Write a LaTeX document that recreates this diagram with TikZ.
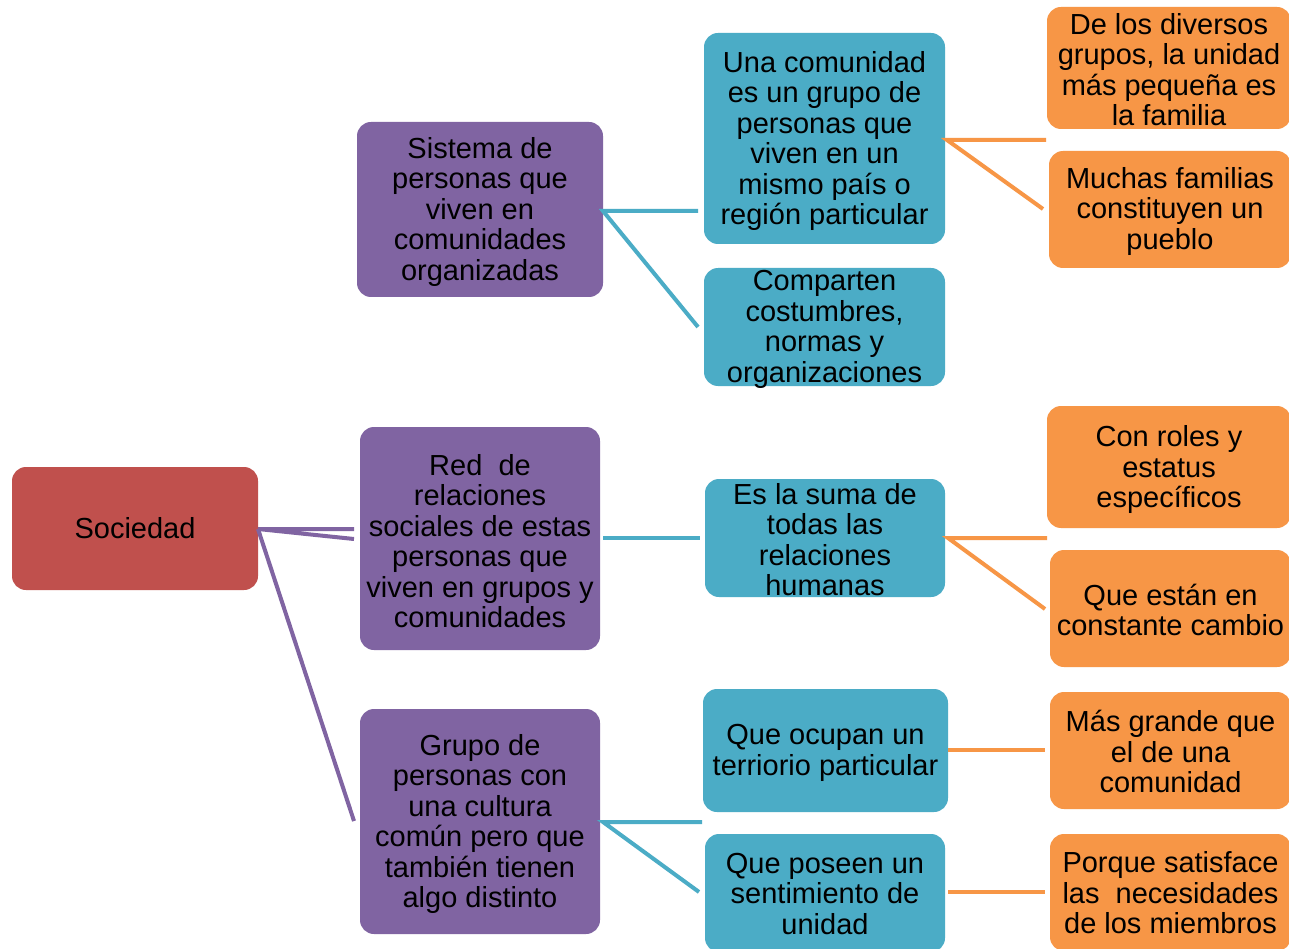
\documentclass[tikz,border=0pt]{standalone}
\usepackage{fontspec}
\setmainfont{Liberation Sans}
\definecolor{cred}{HTML}{C0504D}
\definecolor{cpur}{HTML}{8064A2}
\definecolor{cteal}{HTML}{4BACC6}
\definecolor{cora}{HTML}{F79646}
\begin{document}
\begin{tikzpicture}[x=1pt,y=-1pt,
  box/.style={rounded corners=14pt, inner sep=0pt},
  txt/.style={inner sep=0pt, align=center, text=black,
    font=\fontsize{29}{30.5}\selectfont},
  redbox/.style={box, fill=cred},
  purbox/.style={box, fill=cpur},
  tealbox/.style={box, fill=cteal},
  orabox/.style={box, fill=cora},
  purline/.style={draw=cpur, line width=4pt},
  tealline/.style={draw=cteal, line width=4pt},
  oraline/.style={draw=cora, line width=4pt}]
\clip (0,0) rectangle (1289,949);
\fill[white] (0,0) rectangle (1289,949);
% level 0
\node[redbox, minimum width=246pt, minimum height=123pt] (soc) at (135,528.5) {};
\node[txt] (socT) at (soc.center) {Sociedad};
% level 1
\node[purbox, minimum width=246pt, minimum height=175pt] (sis) at (480,209.5) {};
\node[txt] (sisT) at ([yshift=-2.5pt]sis.center) {Sistema de\\personas que\\viven en\\comunidades\\organizadas};
\node[purbox, minimum width=240pt, minimum height=223pt] (red) at (480,538.5) {};
\node[txt] (redT) at ([yshift=-2.5pt]red.center) {Red\ \ de\\relaciones\\sociales de estas\\personas que\\viven en grupos y\\comunidades};
\node[purbox, minimum width=240pt, minimum height=225pt] (gru) at (480,821.5) {};
\node[txt] (gruT) at ([yshift=-2.5pt]gru.center) {Grupo de\\personas con\\una cultura\\común pero que\\también tienen\\algo distinto};
% level 2
\node[tealbox, minimum width=241pt, minimum height=211pt] (una) at (824.5,138.5) {};
\node[txt] (unaT) at ([yshift=-2.5pt]una.center) {Una comunidad\\es un grupo de\\personas que\\viven en un\\mismo país o\\región particular};
\node[tealbox, minimum width=241pt, minimum height=118pt] (com) at (824.5,327) {};
\node[txt] (comT) at ([yshift=-2.5pt]com.center) {Comparten\\costumbres,\\normas y\\organizaciones};
\node[tealbox, minimum width=240pt, minimum height=118pt] (suma) at (825,538) {};
\node[txt] (sumaT) at ([yshift=-1.5pt]suma.center) {Es la suma de\\todas las\\relaciones\\humanas};
\node[tealbox, minimum width=245pt, minimum height=123pt] (ocu) at (825.5,750.5) {};
\node[txt] (ocuT) at ([yshift=-2.5pt]ocu.center) {Que ocupan un\\terriorio particular};
\node[tealbox, minimum width=240pt, minimum height=118pt] (pos) at (825,893) {};
\node[txt] (posT) at ([yshift=-1pt]pos.center) {Que poseen un\\sentimiento de\\unidad};
% level 3
\node[orabox, minimum width=244pt, minimum height=122pt] (div) at (1169,68) {};
\node[txt] (divT) at ([yshift=-1.5pt]div.center) {De los diversos\\grupos, la unidad\\más pequeña es\\la familia};
\node[orabox, minimum width=242pt, minimum height=117pt] (muc) at (1170,209.5) {};
\node[txt] (mucT) at ([yshift=-2pt]muc.center) {Muchas familias\\constituyen un\\pueblo};
\node[orabox, minimum width=244pt, minimum height=122pt] (rol) at (1169,467) {};
\node[txt] (rolT) at ([yshift=-2.5pt]rol.center) {Con roles y\\estatus\\específicos};
\node[orabox, minimum width=241pt, minimum height=117pt] (est) at (1170.5,608.5) {};
\node[txt] (estT) at ([yshift=-1.5pt]est.center) {Que están en\\constante cambio};
\node[orabox, minimum width=241pt, minimum height=117pt] (gra) at (1170.5,750.5) {};
\node[txt] (graT) at ([yshift=-1pt]gra.center) {Más grande que\\el de una\\comunidad};
\node[orabox, minimum width=241pt, minimum height=117pt] (por) at (1170.5,892.5) {};
\node[txt] (porT) at ([yshift=-0.5pt]por.center) {Porque satisface\\las\ \ necesidades\\de los miembros};
% connector end points
\coordinate (s1) at (354,529);
\coordinate (s2) at (354,539);
\coordinate (s3) at (354,821);
\coordinate (a1) at (698,211);
\coordinate (a2) at (698,327);
\coordinate (b1) at (700,538);
\coordinate (c1) at (702,822);
\coordinate (c2) at (699,892);
\coordinate (d1) at (1046,140);
\coordinate (d2) at (1043,209);
\coordinate (e1) at (1047,538);
\coordinate (e2) at (1045,609);
\coordinate (f1) at (1045,750);
\coordinate (g1) at (1045,892);
\coordinate (socR) at (258,529);
\coordinate (sisR) at (603,211);
\coordinate (redR) at (603,538);
\coordinate (gruR) at (603,822);
\coordinate (unaR) at (947,140);
\coordinate (sumaR) at (948,538);
\coordinate (ocuR) at (948,750);
\coordinate (posR) at (948,892);
% connectors
\path[purline] (s1) -- (socR) -- (s2);
\path[purline] (socR) -- (s3);
\path[tealline] (a1) -- (sisR) -- (a2);
\path[tealline] (redR) -- (b1);
\path[tealline] (c1) -- (gruR) -- (c2);
\path[oraline] (d1) -- (unaR) -- (d2);
\path[oraline] (e1) -- (sumaR) -- (e2);
\path[oraline] (ocuR) -- (f1);
\path[oraline] (posR) -- (g1);
\end{tikzpicture}
\end{document}
